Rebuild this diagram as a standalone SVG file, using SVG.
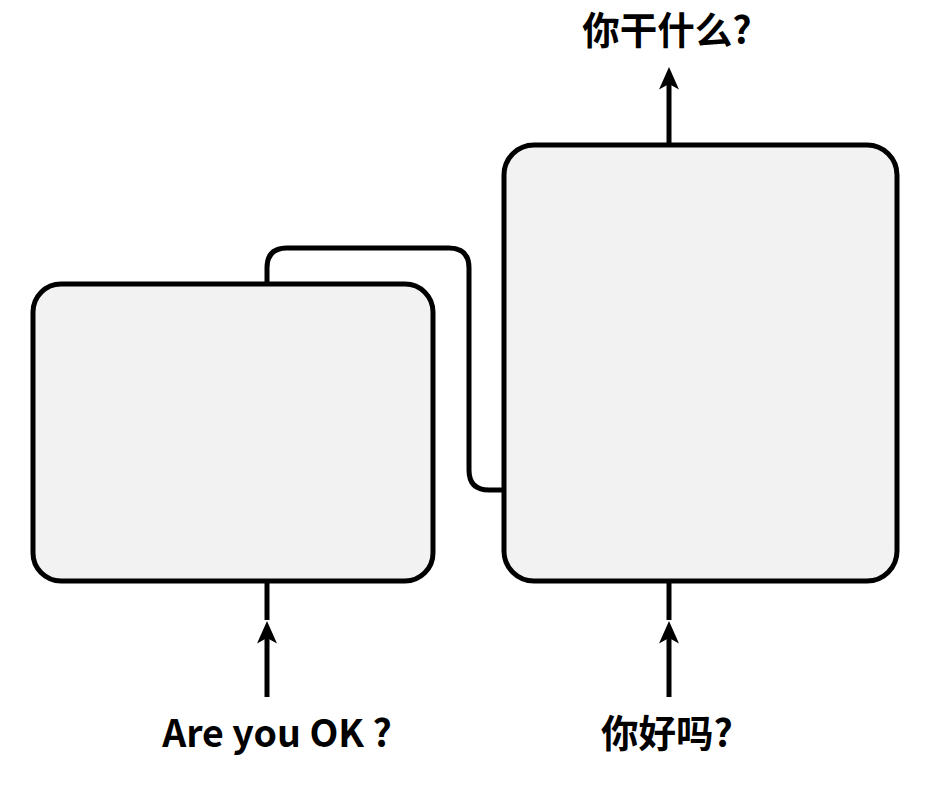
<svg xmlns="http://www.w3.org/2000/svg" width="946" height="789" viewBox="0 0 946 789">
<defs>
<marker id="ah" viewBox="0 0 10 10" refX="6" refY="5" markerWidth="4.5" markerHeight="4" orient="auto" markerUnits="strokeWidth" preserveAspectRatio="none">
<path d="M10 5 L0 0 L2.5 5 L0 10 Z" fill="#000"/>
</marker>
<style>
.box{fill:#f2f2f2;stroke:#000;stroke-width:5}
.ln{fill:none;stroke:#000;stroke-width:5}
.t{font-family:"Noto Sans CJK SC","Noto Sans",sans-serif;font-weight:bold;font-size:37.5px;fill:#000;text-anchor:middle}
</style>
</defs>
<rect width="946" height="789" fill="#fff"/>
<g id="node-left"><rect class="box" x="33" y="284" width="400" height="297" rx="28"/></g>
<g id="node-right"><rect class="box" x="504" y="145" width="393" height="436" rx="30"/></g>
<g id="connectors">
<path class="ln" d="M267 284 V268 Q267 248 287 248 H449 Q469 248 469 268 V470 Q469 490 489 490 H506"/>
<line class="ln" x1="267" y1="581" x2="267" y2="620"/>
<line class="ln" x1="267" y1="697" x2="267" y2="630" marker-end="url(#ah)"/>
<line class="ln" x1="669" y1="581" x2="669" y2="620"/>
<line class="ln" x1="669" y1="697" x2="669" y2="630" marker-end="url(#ah)"/>
<line class="ln" x1="669" y1="145" x2="669" y2="76" marker-end="url(#ah)"/>
</g>
<g id="labels">
<text class="t" x="277" y="747">Are you OK ?</text>
<text class="t" x="667" y="747">你好吗?</text>
<text class="t" x="667" y="44">你干什么?</text>
</g>
</svg>
